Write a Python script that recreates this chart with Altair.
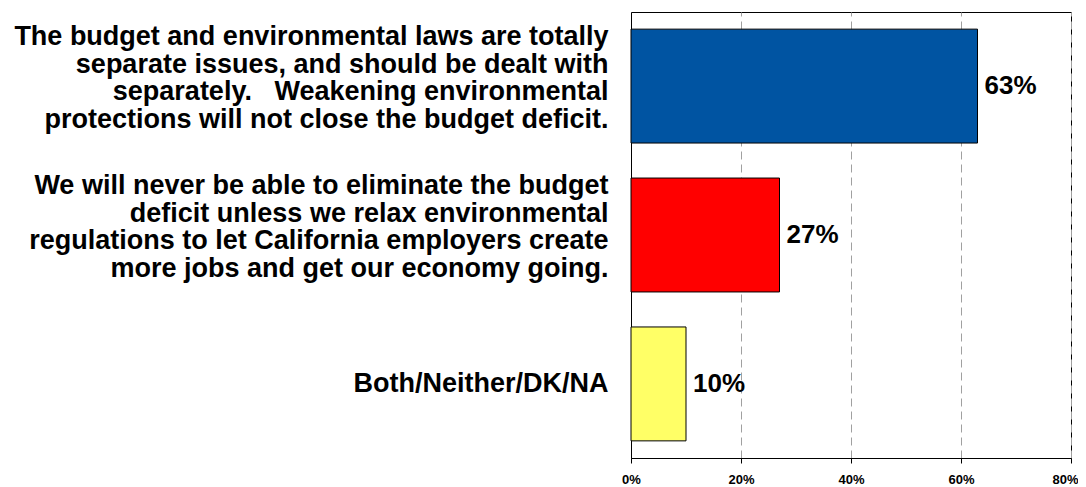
import altair as alt
import pandas as pd

categories = [
    "The budget and environmental laws are totally|separate issues, and should be dealt with|separately.\u00a0\u00a0 Weakening environmental|protections will not close the budget deficit.",
    "We will never be able to eliminate the budget|deficit unless we relax environmental|regulations to let California employers create|more jobs and get our economy going.",
    "Both/Neither/DK/NA",
]
values = [0.63, 0.27, 0.10]
colors = ["#0054A2", "#FF0000", "#FFFF66"]
tick_values = [0, 0.2, 0.4, 0.6, 0.8]

df = pd.DataFrame({"cat": categories, "val": values, "col": colors})

FONT = "Liberation Sans"

y_enc = alt.Y(
    "cat:N",
    sort=None,
    title=None,
    scale=alt.Scale(paddingInner=0.235, paddingOuter=0.115),
    axis=alt.Axis(
        labelExpr="split(datum.label, '|')",
        labelFont=FONT,
        labelFontSize=27,
        labelFontWeight="bold",
        labelColor="#000000",
        labelLineHeight=27.5,
        labelAlign="right",
        labelBaseline="middle",
        labelPadding=23,
        labelLimit=0,
        labelOffset={"condition": {"test": "indexof(datum.label, '|') >= 0", "value": -49}, "value": 0},
        ticks=False,
        domainColor="#000000",
        domainWidth=1,
        grid=False,
    ),
)

x_enc = alt.X(
    "val:Q",
    title=None,
    scale=alt.Scale(domain=[0, 0.8], nice=False),
    axis=alt.Axis(
        values=tick_values,
        format=".0%",
        labelFont=FONT,
        labelFontSize=13,
        labelFontWeight="bold",
        labelColor="#000000",
        labelFlush=False,
        labelOffset={"condition": {"test": "datum.value >= 0.8", "value": -6}, "value": 0},
        labelPadding=10,
        tickSize=5,
        tickColor="#000000",
        domainColor="#000000",
        grid=True,
        gridColor="#a0a0a0",
        gridDash=[8, 5],
        gridWidth=1,
    ),
)

bars = alt.Chart(df).mark_bar(stroke="#000000", strokeWidth=1).encode(
    x=x_enc,
    y=y_enc,
    color=alt.Color("col:N", scale=None),
)

text = alt.Chart(df).mark_text(
    align="left",
    baseline="middle",
    dx=7,
    font=FONT,
    fontSize=26,
    fontWeight="bold",
    color="#000000",
).encode(
    x=alt.X("val:Q"),
    y=alt.Y("cat:N", sort=None),
    text=alt.Text("val:Q", format=".0%"),
)

chart = (
    alt.layer(bars, text)
    .properties(
        width=440,
        height=446,
        background="#ffffff",
        autosize=alt.AutoSizeParams(type="none"),
        padding={"left": 623, "top": 4, "right": 7, "bottom": 28},
    )
    .configure_view(stroke="#000000", strokeWidth=1)
)

chart.save("out.html", embed_options={"renderer": "svg", "actions": False})
